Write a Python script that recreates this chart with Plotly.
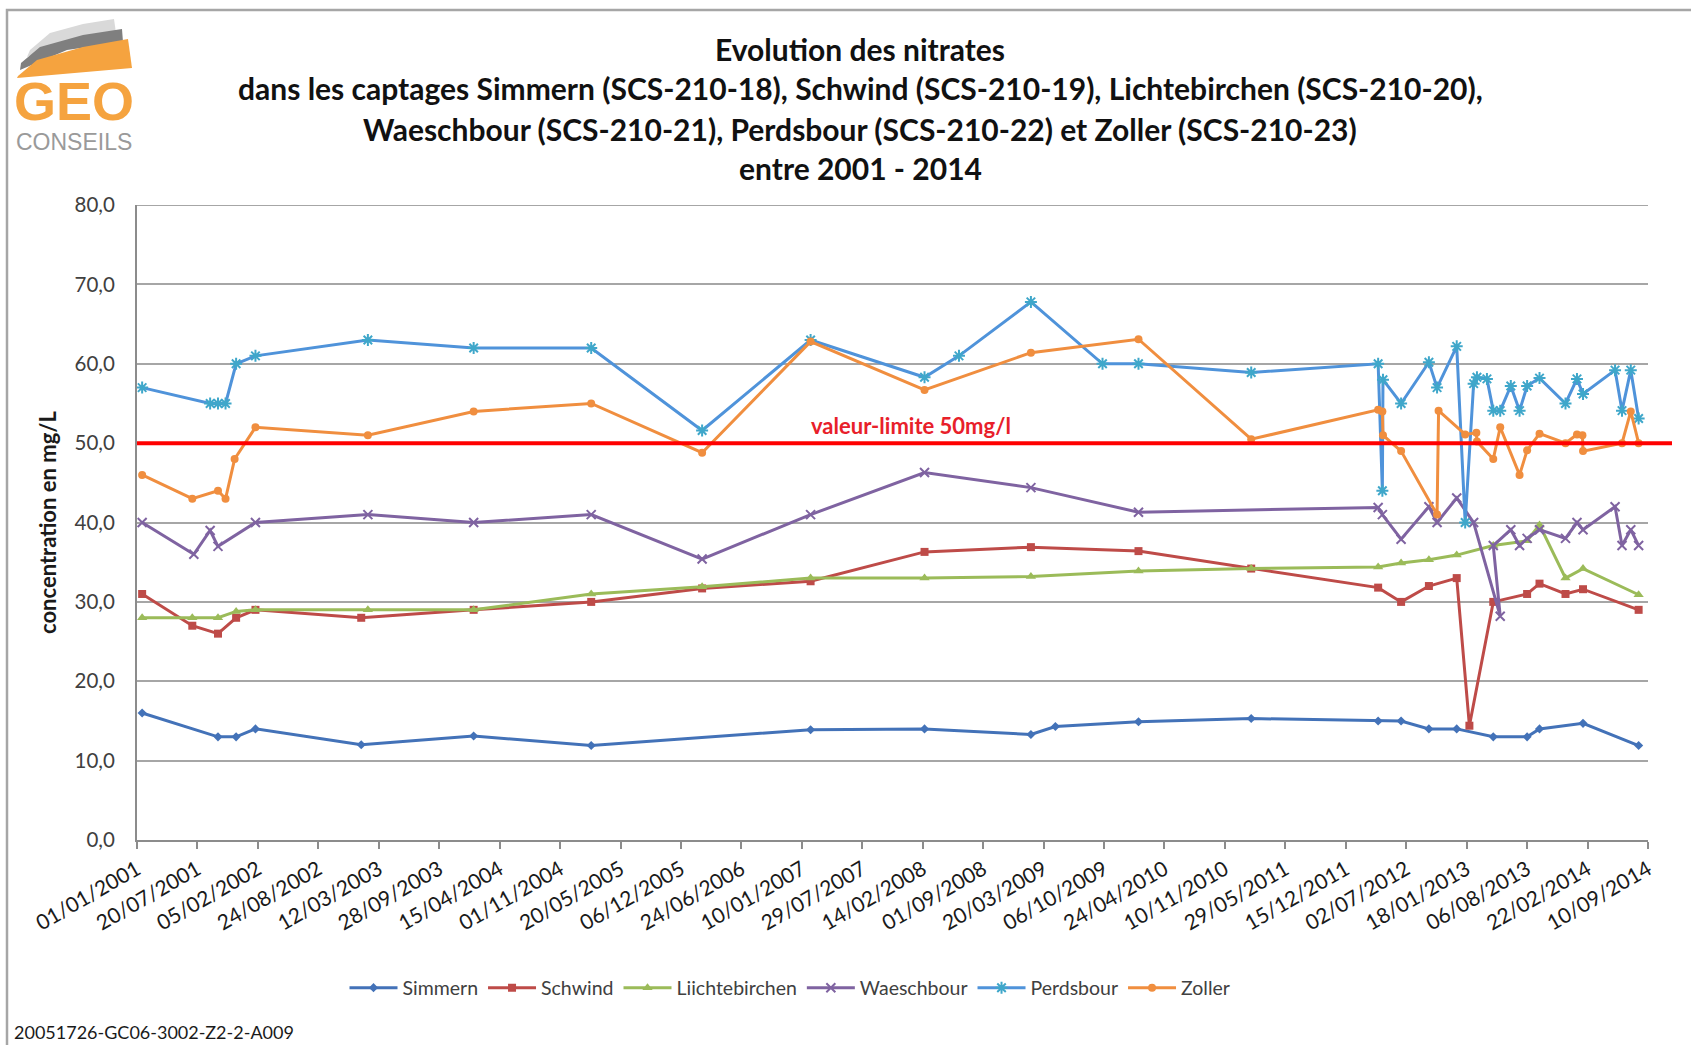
import plotly.graph_objects as go
import pandas as pd

# ---------------- data ----------------
tick_labels = ["01/01/2001", "20/07/2001", "05/02/2002", "24/08/2002", "12/03/2003",
               "28/09/2003", "15/04/2004", "01/11/2004", "20/05/2005", "06/12/2005",
               "24/06/2006", "10/01/2007", "29/07/2007", "14/02/2008", "01/09/2008",
               "20/03/2009", "06/10/2009", "24/04/2010", "10/11/2010", "29/05/2011",
               "15/12/2011", "02/07/2012", "18/01/2013", "06/08/2013", "22/02/2014",
               "10/09/2014"]

simmern_dates = ["2001-01-18", "2001-09-26", "2001-11-25", "2002-01-28", "2003-01-13",
                 "2004-01-20", "2005-02-12", "2007-02-08", "2008-02-20", "2009-02-06",
                 "2009-04-28", "2010-01-28", "2011-02-05", "2012-03-31", "2012-06-15",
                 "2012-09-15", "2012-12-16", "2013-04-16", "2013-08-06", "2013-09-16",
                 "2014-02-07", "2014-08-10"]
simmern_values = [16, 13, 13, 14, 12, 13.1, 11.9, 13.9, 14, 13.3, 14.3, 14.9, 15.3, 15, 15,
                  14, 14, 13, 13, 14, 14.7, 11.9]

schwind_dates = ["2001-01-18", "2001-07-03", "2001-09-26", "2001-11-25", "2002-01-28",
                 "2003-01-13", "2004-01-20", "2005-02-12", "2006-02-14", "2007-02-08",
                 "2008-02-20", "2009-02-06", "2010-01-28", "2011-02-05", "2012-03-31",
                 "2012-06-15", "2012-09-15", "2012-12-16", "2013-01-27", "2013-04-16",
                 "2013-08-06", "2013-09-16", "2013-12-11", "2014-02-07", "2014-08-10"]
schwind_values = [31, 27, 26, 28, 29, 28, 29, 30, 31.7, 32.6, 36.3, 36.9, 36.4, 34.2, 31.8,
                  30, 32, 33, 14.4, 30, 31, 32.3, 31, 31.6, 29]

liicht_dates = ["2001-01-18", "2001-07-03", "2001-09-26", "2001-11-25", "2002-01-28",
                "2003-02-04", "2004-01-20", "2005-02-12", "2006-02-14", "2007-02-08",
                "2008-02-20", "2009-02-06", "2010-01-28", "2011-02-05", "2012-03-31",
                "2012-06-15", "2012-09-15", "2012-12-16", "2013-04-16", "2013-08-06",
                "2013-09-16", "2013-12-11", "2014-02-07", "2014-08-10"]
liicht_values = [28, 28, 28, 28.8, 29, 29, 29, 31, 31.9, 33, 33, 33.2, 33.9, 34.2, 34.4,
                 34.9, 35.3, 35.9, 37.1, 37.7, 39.7, 33, 34.2, 30.9]

waesch_dates = ["2001-01-18", "2001-07-08", "2001-08-31", "2001-09-26", "2002-01-28",
                "2003-02-04", "2004-01-20", "2005-02-12", "2006-02-14", "2007-02-08",
                "2008-02-20", "2009-02-06", "2010-01-28", "2012-03-31", "2012-04-14",
                "2012-06-15", "2012-09-15", "2012-10-12", "2012-12-16", "2013-02-10",
                "2013-05-09", "2013-04-16", "2013-06-13", "2013-07-12", "2013-08-06",
                "2013-09-16", "2013-12-11", "2014-01-18", "2014-02-07", "2014-05-24",
                "2014-06-16", "2014-07-15", "2014-08-10"]
waesch_values = [40, 36, 39, 37, 40, 41, 40, 41, 35.4, 41, 46.3, 44.4, 41.3, 41.9, 41,
                 37.9, 42, 40, 43.1, 40, 28.2, 37.1, 39.1, 37.1, 38, 39.1, 38, 40, 39.1,
                 42, 37.1, 39.1, 37.1]

perds_dates = ["2001-01-18", "2001-08-31", "2001-09-26", "2001-10-21", "2001-11-25",
               "2002-01-28", "2003-02-04", "2004-01-20", "2005-02-12", "2006-02-14",
               "2007-02-08", "2008-02-20", "2008-06-13", "2009-02-06", "2009-10-01",
               "2010-01-28", "2011-02-05", "2012-03-31", "2012-04-14", "2012-04-16",
               "2012-06-15", "2012-09-15", "2012-10-12", "2012-12-16", "2013-01-13",
               "2013-02-10", "2013-02-21", "2013-03-26", "2013-04-16", "2013-05-09",
               "2013-06-13", "2013-07-12", "2013-08-06", "2013-09-16", "2013-12-11",
               "2014-01-18", "2014-02-07", "2014-05-24", "2014-06-16", "2014-07-15",
               "2014-08-10"]
perds_values = [57, 55, 55, 55, 60, 61, 63, 62, 62, 51.6, 63, 58.3, 61, 67.8, 60, 60, 58.9,
                60, 44, 58, 55, 60.2, 57, 62.2, 40, 57.5, 58.3, 58.1, 54.1, 54.1, 57.2,
                54.1, 57.2, 58.2, 55, 58.1, 56.2, 59.2, 54.1, 59.2, 53.1]

zoller_dates = ["2001-01-18", "2001-07-03", "2001-09-26", "2001-10-21", "2001-11-20",
                "2002-01-28", "2003-02-04", "2004-01-20", "2005-02-12", "2006-02-14",
                "2007-02-08", "2008-02-20", "2009-02-06", "2010-01-28", "2011-02-05",
                "2012-03-31", "2012-04-14", "2012-04-16", "2012-06-15", "2012-10-12",
                "2012-10-17", "2013-01-13", "2013-02-19", "2013-02-21", "2013-04-16",
                "2013-05-09", "2013-07-12", "2013-08-06", "2013-09-16", "2013-12-11",
                "2014-01-18", "2014-02-05", "2014-02-07", "2014-06-16", "2014-07-15",
                "2014-08-10"]
zoller_values = [46, 43, 44, 43, 48, 52, 51, 54, 55, 48.8, 62.8, 56.7, 61.4, 63.1, 50.5,
                 54.2, 54, 51, 49, 41, 54.1, 51.1, 51.3, 50.2, 48, 52, 46, 49.1, 51.2, 50,
                 51.1, 51, 49, 50, 54, 50]

limit_value = 50
y_max = 80

# ---------------- layout helpers ----------------
W, H = 1691, 1045
ML, MR, MT, MB = 137, 43, 205, 205
PW, PH = W - ML - MR, H - MT - MB


def px(x):
    return (x - ML) / PW


def py(y):
    return (H - MB - y) / PH


def poly(points):
    return "M " + " L ".join(f"{px(a):.5f},{py(b):.5f}" for a, b in points) + " Z"


FONT = "Lato, 'Open Sans', sans-serif"
tick_dates = [pd.to_datetime(t, format="%d/%m/%Y") for t in tick_labels]

series = [
    ("Simmern", simmern_dates, simmern_values, "#4372B8", dict(symbol="diamond", size=7, color="#4372B8")),
    ("Schwind", schwind_dates, schwind_values, "#BE4B48", dict(symbol="square", size=8, color="#BE4B48")),
    ("Liichtebirchen", liicht_dates, liicht_values, "#9BBB59", dict(symbol="triangle-up", size=9, color="#9BBB59")),
    ("Waeschbour", waesch_dates, waesch_values, "#7F63A1",
     dict(symbol="x-thin-open", size=9, color="#7F63A1", line=dict(width=2, color="#7F63A1"))),
    ("Perdsbour", perds_dates, perds_values, "#4F93DA",
     dict(symbol="asterisk-open", size=10, color="#3FA7CA", line=dict(width=2, color="#3FA7CA"))),
    ("Zoller", zoller_dates, zoller_values, "#F08E3F", dict(symbol="circle", size=8, color="#F08E3F")),
]

fig = go.Figure()
for name, d, v, col, mk in series:
    fig.add_trace(go.Scatter(x=pd.to_datetime(d), y=v, name=name, mode="lines+markers",
                             line=dict(color=col, width=3), marker=mk))

fig.update_layout(
    width=W, height=H,
    margin=dict(l=ML, r=MR, t=MT, b=MB, autoexpand=False),
    paper_bgcolor="white", plot_bgcolor="white",
    separators=", ",
    font=dict(family=FONT, color="#404040"),
    showlegend=True,
    legend=dict(orientation="h", x=px(790), xanchor="center", y=py(988), yanchor="middle",
                font=dict(size=19.5, color="#404040"), itemwidth=48, traceorder="normal",
                bgcolor="rgba(0,0,0,0)"),
)

fig.update_xaxes(
    type="date", range=[tick_dates[0], tick_dates[-1]],
    tickmode="array", tickvals=tick_dates, ticktext=tick_labels, tickangle=-30,
    tickfont=dict(size=21, color="#1A1A1A", family=FONT),
    ticks="outside", ticklen=7, tickwidth=2, tickcolor="#8C8C8C",
    showline=True, linecolor="#8C8C8C", linewidth=2,
    showgrid=False, zeroline=False,
)
fig.update_yaxes(
    range=[0, y_max + 0.01], dtick=10, tick0=0, tickformat=".1f",
    tickfont=dict(size=20.5, color="#404040", family=FONT),
    ticklabelstandoff=16,
    showgrid=True, gridcolor="#A6A6A6", gridwidth=2,
    showline=True, linecolor="#8C8C8C", linewidth=2, zeroline=False,
    title=dict(text="<b>concentration en mg/L</b>", font=dict(size=22, color="#1A1A1A", family=FONT),
               standoff=12),
)

# top gridline (80,0)
fig.add_shape(type="line", xref="paper", yref="y", x0=0, x1=1, y0=y_max, y1=y_max,
              line=dict(color="#A6A6A6", width=2), layer="below")

# limit line
fig.add_shape(type="line", xref="paper", yref="y", x0=0, x1=px(1672), y0=limit_value, y1=limit_value,
              line=dict(color="#FF0000", width=4), layer="above")
fig.add_annotation(xref="paper", yref="y", x=px(911), y=limit_value, yshift=18,
                   text="<b>valeur-limite 50mg/l</b>", showarrow=False,
                   font=dict(size=22, color="#E8202A", family=FONT))

# title lines
title_lines = ["Evolution des nitrates",
               "dans les captages Simmern (SCS-210-18), Schwind (SCS-210-19), Lichtebirchen (SCS-210-20),",
               "Waeschbour (SCS-210-21), Perdsbour (SCS-210-22) et Zoller (SCS-210-23)",
               "entre 2001 - 2014"]
for i, t in enumerate(title_lines):
    fig.add_annotation(xref="paper", yref="paper", x=px(860), y=py(48.5 + 40 * i),
                       xanchor="center", yanchor="middle", text=f"<b>{t}</b>", showarrow=False,
                       font=dict(size=30, color="#111111", family=FONT))

# footer
fig.add_annotation(xref="paper", yref="paper", x=px(12), y=py(1032), xanchor="left", yanchor="middle",
                   text="20051726-GC06-3002-Z2-2-A009", showarrow=False,
                   font=dict(size=18, color="#1A1A1A", family=FONT))

# frame
fig.add_shape(type="path", xref="paper", yref="paper",
              path=f"M {px(7)},{py(1060)} L {px(7)},{py(10)} L {px(1700)},{py(10)}",
              line=dict(color="#A6A6A6", width=2.5))

# logo
fig.add_shape(type="path", xref="paper", yref="paper", line=dict(width=0), fillcolor="#D9D9D9",
              path=poly([(30, 50), (50, 33), (83, 24), (114, 19), (116, 33), (67, 40), (27, 57)]))
fig.add_shape(type="path", xref="paper", yref="paper", line=dict(width=0), fillcolor="#7F7F7F",
              path=poly([(21, 63), (40, 47), (83, 35), (122, 29), (123, 42), (67, 50), (20, 70)]))
fig.add_shape(type="path", xref="paper", yref="paper", line=dict(width=0), fillcolor="#F5A33F",
              path=poly([(18, 76), (37, 60), (83, 47), (128, 39), (132, 68), (17, 78)]))
fig.add_annotation(xref="paper", yref="paper", x=px(74), y=py(101), xanchor="center", yanchor="middle",
                   text="<b>GEO</b>", showarrow=False,
                   font=dict(size=54, color="#F5A33F", family="'Liberation Sans', Arial, sans-serif"))
fig.add_annotation(xref="paper", yref="paper", x=px(74), y=py(142), xanchor="center", yanchor="middle",
                   text="CONSEILS", showarrow=False,
                   font=dict(size=23, color="#9A9A9A", family="'Liberation Sans', Arial, sans-serif"))

fig.write_html("out.html", config={"displayModeBar": False},
               post_script="document.body.style.margin='0';document.body.style.overflow='hidden';")
